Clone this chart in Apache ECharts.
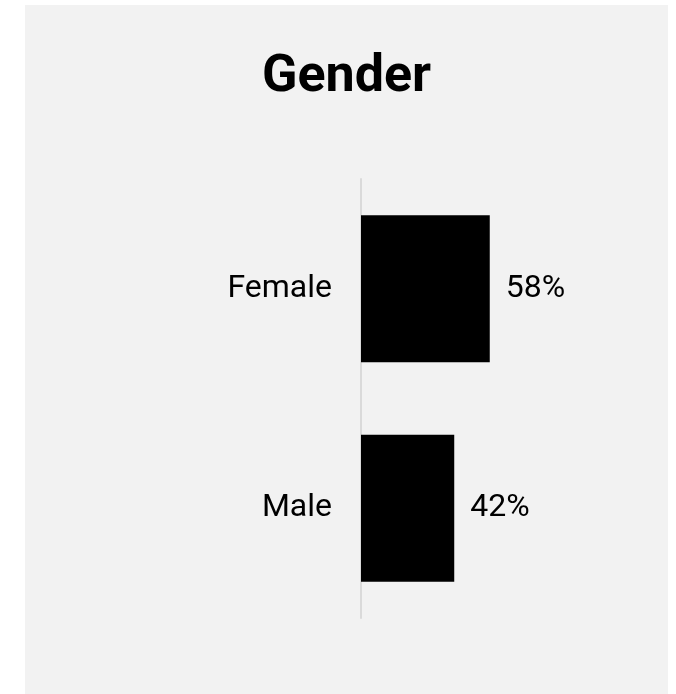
<!DOCTYPE html>
<html>
<head>
<meta charset="utf-8">
<script src="https://cdn.jsdelivr.net/npm/echarts@6/dist/echarts.min.js"></script>
<style>
  html, body { margin: 0; padding: 0; background: #ffffff; }
  #chart { position: absolute; left: 25px; top: 5px; width: 643px; height: 689px; }
</style>
</head>
<body>
<div id="chart"></div>
<script>
// data
var categories = ['Female', 'Male'];
var shares = [58, 42];
var titleText = 'Gender';

var chart = echarts.init(document.getElementById('chart'));

var option = {
	backgroundColor: '#f2f2f2',
	animation: false,
	title: {
		text: titleText,
		left: 'center',
		top: 42,
		textStyle: {
			fontFamily: 'Roboto',
			fontWeight: 'bold',
			fontSize: 52,
			color: '#000'
		}
	},
	grid: {
		left: 336,
		top: 174,
		width: 222,
		height: 439
	},
	xAxis: {
		type: 'value',
		min: 0,
		max: 100,
		show: false
	},
	yAxis: {
		type: 'category',
		inverse: true,
		data: categories,
		axisLine: { show: true, lineStyle: { color: '#dadada', width: 2 } },
		axisTick: { show: false },
		axisLabel: {
			margin: 29,
			fontFamily: 'Roboto',
			fontSize: 32,
			color: '#000'
		}
	},
	series: [{
		type: 'bar',
		data: shares,
		barWidth: '67%',
		itemStyle: { color: '#000' },
		label: {
			show: true,
			position: 'right',
			distance: 16,
			formatter: '{c}%',
			fontFamily: 'Roboto',
			fontSize: 32,
			color: '#000'
		}
	}]
};

chart.setOption(option);
</script>
</body>
</html>
